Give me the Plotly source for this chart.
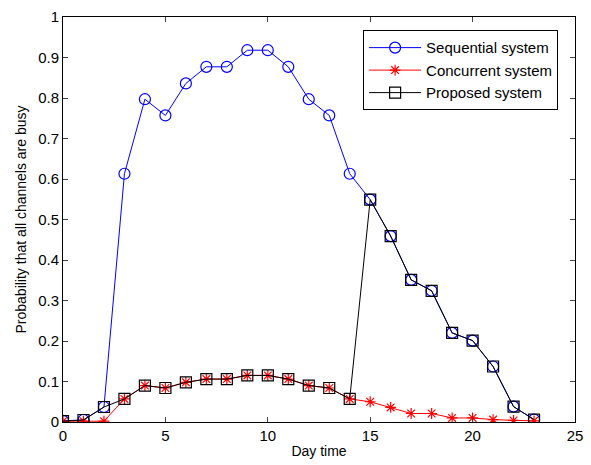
import plotly.graph_objects as go

hours = list(range(24))
sequential = [0.003, 0.005, 0.037, 0.613, 0.797, 0.757, 0.836, 0.877, 0.877, 0.918, 0.918, 0.877,
              0.797, 0.757, 0.613, 0.549, 0.459, 0.351, 0.324, 0.220, 0.201, 0.137, 0.038, 0.006]
concurrent = [0.002, 0.002, 0.002, 0.057, 0.090, 0.084, 0.098, 0.106, 0.106, 0.115, 0.115, 0.106,
              0.090, 0.084, 0.057, 0.050, 0.036, 0.021, 0.021, 0.010, 0.010, 0.006, 0.004, 0.003]
proposed = [0.002, 0.005, 0.037, 0.057, 0.090, 0.084, 0.098, 0.106, 0.106, 0.115, 0.115, 0.106,
            0.090, 0.084, 0.057, 0.549, 0.459, 0.351, 0.324, 0.220, 0.201, 0.137, 0.038, 0.006]
x_ticks = [0, 5, 10, 15, 20, 25]
y_ticks = [0, 0.1, 0.2, 0.3, 0.4, 0.5, 0.6, 0.7, 0.8, 0.9, 1]
y_tick_text = ["0", "0.1", "0.2", "0.3", "0.4", "0.5", "0.6", "0.7", "0.8", "0.9", "1"]

fig = go.Figure()
fig.add_trace(go.Scatter(x=hours, y=sequential, name="Sequential system", mode="lines+markers",
                         line=dict(color="#0000ff", width=1),
                         marker=dict(symbol="circle-open", size=11, color="#0000ff", line=dict(width=1.2))))
fig.add_trace(go.Scatter(x=hours, y=concurrent, name="Concurrent system", mode="lines+markers",
                         line=dict(color="#ff0000", width=1),
                         marker=dict(symbol="asterisk-open", size=9, color="#ff0000", line=dict(width=1.2, color="#ff0000"))))
fig.add_trace(go.Scatter(x=hours, y=proposed, name="Proposed system", mode="lines+markers",
                         line=dict(color="#000000", width=1),
                         marker=dict(symbol="square-open", size=11, color="#000000", line=dict(width=1.2))))

font = "Liberation Sans, Arial, sans-serif"
fig.update_layout(
    width=591, height=465,
    margin=dict(l=63, r=8, t=12, b=43),
    paper_bgcolor="white", plot_bgcolor="white",
    font=dict(family=font, size=14, color="#000000"),
    showlegend=True,
    legend=dict(x=0.967, y=0.967, xanchor="right", yanchor="top",
                bgcolor="white", bordercolor="#000000", borderwidth=1,
                font=dict(family=font, size=15), tracegroupgap=0, itemwidth=52),
    xaxis=dict(range=[0, 25], tickvals=x_ticks, ticks="inside", ticklen=5, showgrid=False,
               zeroline=False, showline=True, linecolor="#000000", linewidth=1, mirror="ticks",
               tickfont=dict(size=15),
               title=dict(text="Day time", font=dict(size=14), standoff=3)),
    yaxis=dict(range=[0, 1], tickvals=y_ticks, ticktext=y_tick_text, ticks="inside", ticklen=5,
               showgrid=False, zeroline=False, showline=True, linecolor="#000000", linewidth=1,
               mirror="ticks", tickfont=dict(size=15),
               title=dict(text="Probability that all channels are busy", font=dict(size=14), standoff=8)),
)

fig.write_html("out.html")
